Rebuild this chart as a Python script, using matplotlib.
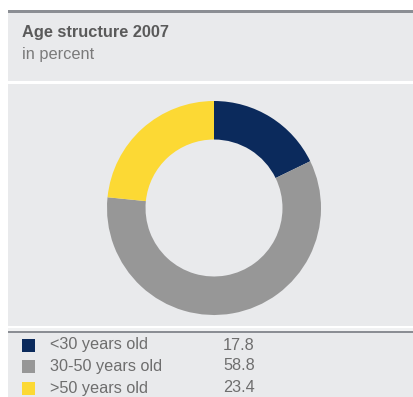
import matplotlib
matplotlib.use("Agg")
import matplotlib.pyplot as plt
from matplotlib.patches import Rectangle

plt.rcParams["font.family"] = ["Liberation Sans", "DejaVu Sans"]

# Data
categories = ["<30 years old", "30-50 years old", ">50 years old"]
values = [17.8, 58.8, 23.4]
value_labels = ["17.8", "58.8", "23.4"]
colors = ["#0b2a5c", "#979797", "#fcd934"]

W, H = 414, 397
fig = plt.figure(figsize=(W / 100, H / 100), dpi=100)
fig.patch.set_facecolor("white")

panel = "#e9eaec"
rule = "#8b8e94"


def box(x0, y0, x1, y1, color, z=-10):
    # pixel coordinates measured from top-left
    fig.patches.append(Rectangle((x0 / W, 1 - y1 / H), (x1 - x0) / W, (y1 - y0) / H,
                                 transform=fig.transFigure, facecolor=color,
                                 edgecolor="none", zorder=z))


# panels
box(8, 12, W, 81, panel)
box(8, 84, W, 326, panel)
box(8, 328, W, 331, "#f1f2f3")
box(8, 333, W, H, panel)
# rules
box(8, 10, W, 12.5, rule)
box(8, 330.5, W, 333, rule)

# header text
fig.text(22 / W, 1 - 37 / H, "Age structure 2007", fontsize=11.8, fontweight="bold",
         color="#5a5a5a", ha="left", va="baseline")
fig.text(22 / W, 1 - 59 / H, "in percent", fontsize=11.8, color="#7a7a7a",
         ha="left", va="baseline")

# donut
cx, cy, r = 214, 208, 107
ax = fig.add_axes([(cx - r) / W, 1 - (cy + r) / H, 2 * r / W, 2 * r / H])
ax.pie(values, colors=colors, startangle=90, counterclock=False, radius=1,
       wedgeprops=dict(width=0.36, edgecolor="none"))
ax.set_xlim(-1, 1)
ax.set_ylim(-1, 1)
ax.set_aspect("equal")
ax.axis("off")
ax.patch.set_visible(False)
ax.set_zorder(5)

# legend
rows_y = [345, 366, 388]
for yc, lab, val, col in zip(rows_y, categories, value_labels, colors):
    box(22, yc - 6.5, 35, yc + 6.5, col, z=1)
    fig.text(50 / W, 1 - yc / H, lab, fontsize=11.7, color="#6e6e6e",
             ha="left", va="center")
    fig.text(223 / W, 1 - yc / H, val, fontsize=11.7, color="#6e6e6e",
             ha="left", va="center")

fig.savefig("out.png", dpi=100, facecolor=fig.get_facecolor())
